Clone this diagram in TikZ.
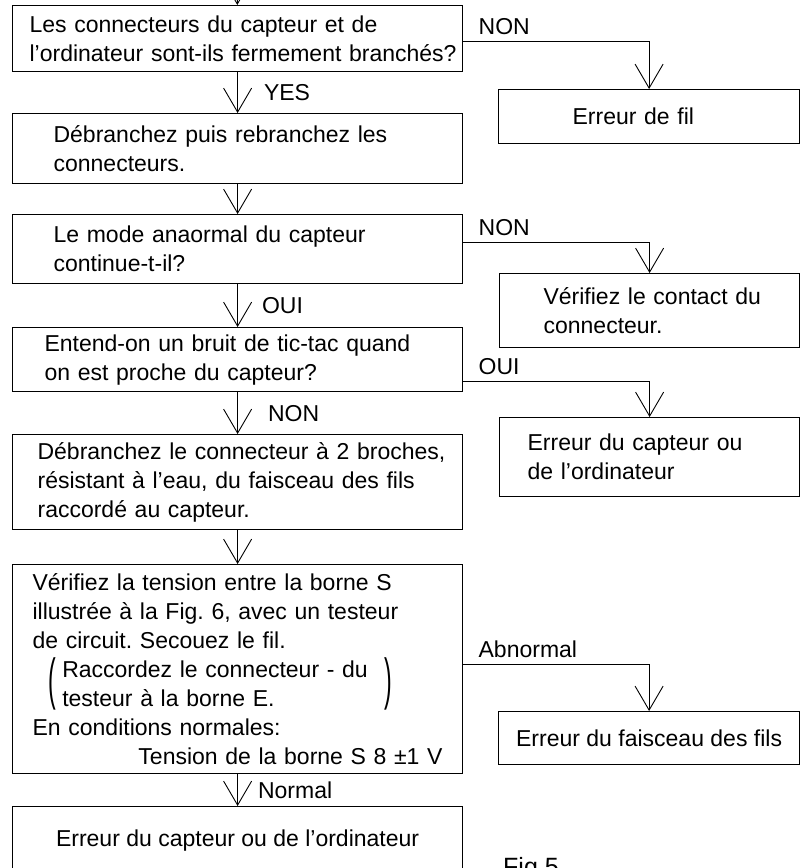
\documentclass[tikz,border=0pt]{standalone}
\usepackage{fontspec}
\setmainfont{Liberation Sans}
\usepackage{graphicx}
\usepackage{tikz}
\usetikzlibrary{positioning, arrows.meta}
\frenchspacing

\newcommand{\tallparen}[1]{\raisebox{-21pt}[0pt][0pt]{\scalebox{1}[2.45]{#1}}}

\begin{document}
\begin{tikzpicture}[
    x=1pt, y=-1pt,
    font=\fontsize{23}{29}\selectfont,
    stepbox/.style={rectangle, draw, line width=1.2pt, anchor=north west, align=left, inner ysep=2pt, minimum width=450pt},
    endbox/.style={rectangle, draw, line width=1.2pt, anchor=north west, inner ysep=2pt},
    flow/.style={line width=0.9pt, -{Straight Barb[length=24pt, width=28pt]}},
    lbl/.style={inner sep=0pt, anchor=base west}
]

\useasboundingbox (0,0) rectangle (811,868);
\clip (0,0) rectangle (811,868);

\coordinate (top) at (237,-40);

\node[stepbox, minimum height=66pt, text width=416pt] (q1) at (12,5) {Les connecteurs du capteur et de\\\mbox{l’ordinateur sont-ils fermement branchés?}};
\node[stepbox, minimum height=70pt, text width=368pt] (s1) at (12,113) {Débranchez puis rebranchez les\\connecteurs.};
\node[stepbox, minimum height=69pt, text width=368pt] (q2) at (12,214) {Le mode anaormal du capteur\\continue-t-il?};
\node[stepbox, minimum height=64pt, text width=386pt] (q3) at (12,327) {Entend-on un bruit de tic-tac quand\\on est proche du capteur?};
\node[stepbox, minimum height=95pt, text width=400pt] (s2) at (12,434) {\mbox{Débranchez le connecteur à 2 broches,}\\résistant à l’eau, du faisceau des fils\\raccordé au capteur.};
\node[stepbox, minimum height=209pt, text width=410pt] (s3) at (12,564) {Vérifiez la tension entre la borne S\\illustrée à la Fig. 6, avec un testeur\\de circuit. Secouez le fil.\\\hspace*{16pt}\tallparen{(}\hspace{6pt}\makebox[322pt][l]{Raccordez le connecteur - du}\tallparen{)}\\\hspace*{29.7pt}testeur à la borne E.\\En conditions normales:\\\hspace*{\fill}Tension de la borne S 8 ±1 V};
\node[endbox, minimum width=450pt, minimum height=68pt] (res) at (12,806) {Erreur du capteur ou de l’ordinateur};

\node[stepbox, minimum width=301pt, minimum height=54pt, text width=153pt] (e1) at (498,89) {Erreur de fil};
\node[stepbox, minimum width=300pt, minimum height=74pt, text width=212pt] (e2) at (499,273) {\mbox{Vérifiez le contact du}\\connecteur.};
\node[stepbox, minimum width=300pt, minimum height=79pt, text width=244pt] (e3) at (499,417) {Erreur du capteur ou\\de l’ordinateur};
\node[endbox, minimum width=301pt, minimum height=53pt] (e4) at (498,711) {Erreur du faisceau des fils};

\node[lbl, font=\fontsize{25}{30}\selectfont] (fig) at (503,875) {Fig.5};

\draw[flow] (top) -- (q1);
\draw[flow] (q1) -- node[lbl, right=26pt] (yes) {YES} (s1);
\draw[flow] (s1) -- (q2);
\draw[flow] (q2) -- node[lbl, right=24pt] (oui1) {OUI} (q3);
\draw[flow] (q3) -- node[lbl, right=30pt] (non3) {NON} (s2);
\draw[flow] (s2) -- (s3);
\draw[flow] (s3) -- node[lbl, right=20pt] (normal) {Normal} (res);

\draw[flow] ([yshift=-3pt]q1.east) -| node[lbl, pos=0, xshift=15pt, yshift=7pt] (non1) {NON} (e1.north);
\draw[flow] ([yshift=6.5pt]q2.east) -| node[lbl, pos=0, xshift=15pt, yshift=7pt] (non2) {NON} (e2.north);
\draw[flow] ([yshift=-22pt]q3.east) -| node[lbl, pos=0, xshift=15pt, yshift=7pt] (oui2) {OUI} (e3.north);
\draw[flow] ([yshift=4.5pt]s3.east) -| node[lbl, pos=0, xshift=15pt, yshift=7pt] (abn) {Abnormal} (e4.north);

\end{tikzpicture}
\end{document}
